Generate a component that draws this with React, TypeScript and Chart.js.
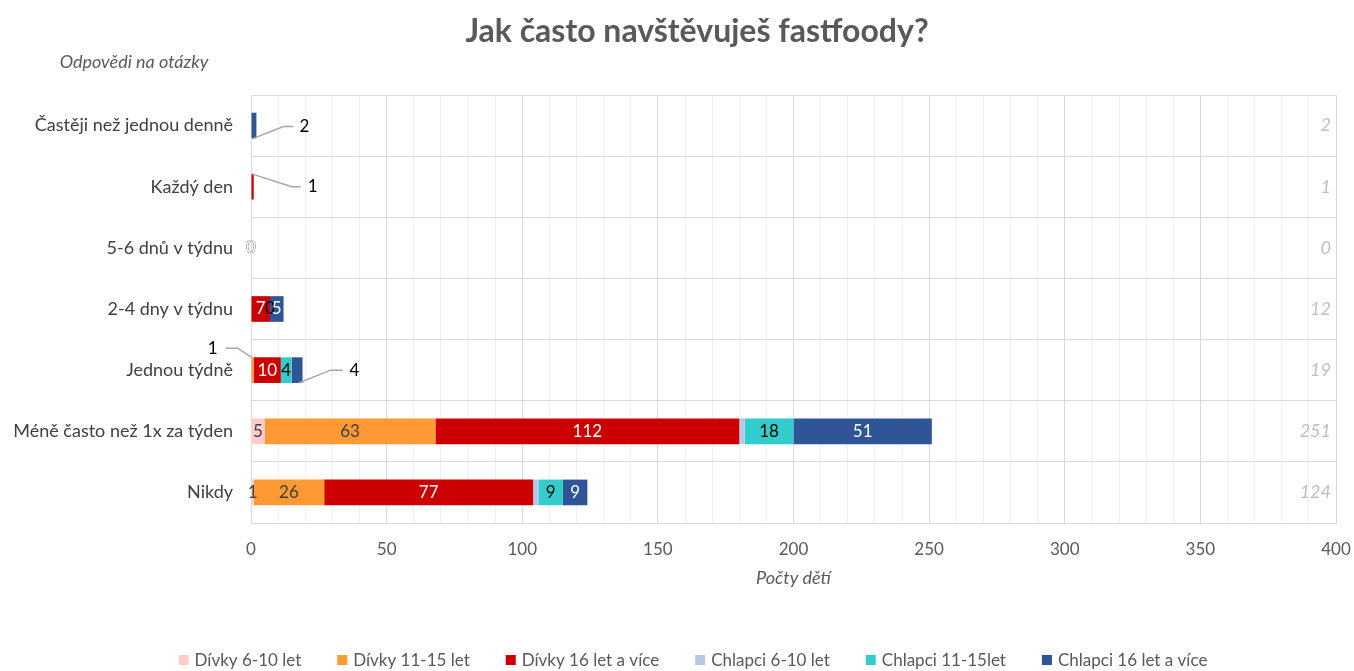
import React, { useEffect, useRef } from 'react';
import { Chart, registerables } from 'chart.js';

Chart.register(...registerables);

// ---------- data ----------
const categories = [
  'Častěji než jednou denně',
  'Každý den',
  '5-6 dnů v týdnu',
  '2-4 dny v týdnu',
  'Jednou týdně',
  'Méně často než 1x za týden',
  'Nikdy',
];
const seriesNames = [
  'Dívky 6-10 let',
  'Dívky 11-15 let',
  'Dívky 16 let a více',
  'Chlapci 6-10 let',
  'Chlapci 11-15let',
  'Chlapci 16 let a více',
];
const divky610 = [0, 0, 0, 0, 0, 5, 1];
const divky1115 = [0, 0, 0, 0, 1, 63, 26];
const divky16 = [0, 1, 0, 7, 10, 112, 77];
const chlapci610 = [0, 0, 0, 0, 0, 2, 2];
const chlapci1115 = [0, 0, 0, 0, 4, 18, 9];
const chlapci16 = [2, 0, 0, 5, 4, 51, 9];
const seriesValues = [divky610, divky1115, divky16, chlapci610, chlapci1115, chlapci16];
const totals = categories.map((_, i) => seriesValues.reduce((s, arr) => s + arr[i], 0));

const titleText = 'Jak často navštěvuješ fastfoody?';
const yTitleText = 'Odpovědi na otázky';
const xTitleText = 'Počty dětí';
const xMin = 0;
const xMax = 400;
const xMinorStep = 10;
const xMajorStep = 50;

// ---------- styles ----------
const FONT = 'Lato, "Open Sans", sans-serif';
const colors = ['#FFCCCC', '#FF9933', '#CC0000', '#B4C7E7', '#33CCCC', '#2F5597'];
const labelColors: (string | null)[] = ['#404040', '#404040', '#FFFFFF', null, '#000000', '#FFFFFF'];
const GRAY_TEXT = '#595959';
const LEADER = '#A6A6A6';

// callout geometry relative to segment end (xr), row centre (yc) and half bar height (h)
type Pt = (xr: number, yc: number, h: number) => [number, number];
type Callout = { start: Pt; elbow: Pt; end: Pt; align: CanvasTextAlign; textDx: number };
const callouts: Record<string, Callout> = {
  '5:0': { start: (xr, yc, h) => [xr - 3, yc + h], elbow: (xr, yc) => [xr + 27, yc + 1], end: (xr, yc) => [xr + 37, yc + 1], align: 'left', textDx: 6 },
  '2:1': { start: (xr, yc, h) => [xr - 2, yc - h], elbow: (xr, yc) => [xr + 38, yc], end: (xr, yc) => [xr + 47, yc], align: 'left', textDx: 7 },
  '1:4': { start: (xr, yc, h) => [xr - 2, yc - h], elbow: (xr, yc) => [xr - 16, yc - 22], end: (xr, yc) => [xr - 28, yc - 22], align: 'right', textDx: -8 },
  '5:4': { start: (xr, yc, h) => [xr - 4, yc + h], elbow: (xr, yc) => [xr + 28, yc], end: (xr, yc) => [xr + 40, yc], align: 'left', textDx: 7 },
};
// zero-value labels that remain visible in the reference
const shownZeros = new Set(['0:2', '1:2', '2:2', '4:2', '5:2', '4:3']);

const overlayPlugin = {
  id: 'overlay',
  afterDatasetsDraw(chart: any) {
    const ctx: CanvasRenderingContext2D = chart.ctx;
    ctx.save();
    ctx.font = `17px ${FONT}`;
    ctx.textBaseline = 'middle';
    seriesValues.forEach((vals, ds) => {
      const meta = chart.getDatasetMeta(ds);
      vals.forEach((v, idx) => {
        const col = labelColors[ds];
        if (!col) return;
        const key = `${ds}:${idx}`;
        if (v === 0 && !shownZeros.has(key)) return;
        const el = meta.data[idx];
        const p = el.getProps(['x', 'base', 'y', 'height'], true);
        const xr = Math.max(p.x, p.base);
        const xl = Math.min(p.x, p.base);
        const h = p.height / 2;
        const co = callouts[key];
        if (co) {
          const s = co.start(xr, p.y, h);
          const e1 = co.elbow(xr, p.y, h);
          const e2 = co.end(xr, p.y, h);
          ctx.strokeStyle = LEADER;
          ctx.lineWidth = 1.5;
          ctx.beginPath();
          ctx.moveTo(s[0], s[1]);
          ctx.lineTo(e1[0], e1[1]);
          ctx.lineTo(e2[0], e2[1]);
          ctx.stroke();
          ctx.fillStyle = '#000000';
          ctx.textAlign = co.align;
          ctx.fillText(String(v), e2[0] + co.textDx, e2[1]);
        } else {
          ctx.fillStyle = col;
          ctx.textAlign = 'center';
          ctx.fillText(String(v), (xl + xr) / 2, p.y);
        }
      });
    });
    // totals on the right
    ctx.font = `italic 18px ${FONT}`;
    ctx.fillStyle = '#BFBFBF';
    ctx.textAlign = 'right';
    const yScale = chart.scales.y;
    totals.forEach((t, i) => {
      ctx.fillText(String(t), chart.chartArea.right - 5, yScale.getPixelForValue(i));
    });
    ctx.restore();
  },
  afterDraw(chart: any) {
    const ctx: CanvasRenderingContext2D = chart.ctx;
    const area = chart.chartArea;
    ctx.save();
    ctx.textBaseline = 'middle';
    // title
    ctx.font = `bold 32px ${FONT}`;
    ctx.fillStyle = GRAY_TEXT;
    ctx.textAlign = 'center';
    ctx.fillText(titleText, 697, 32);
    // y title
    ctx.font = `italic 18px ${FONT}`;
    ctx.fillText(yTitleText, 134, 62);
    // x title
    ctx.fillText(xTitleText, (area.left + area.right) / 2, 578);
    // legend
    ctx.font = `17px ${FONT}`;
    const box = 10;
    const boxGap = 6;
    const itemGap = 36;
    const widths = seriesNames.map((n) => ctx.measureText(n).width);
    const total = widths.reduce((s, w) => s + box + boxGap + w, 0) + itemGap * (seriesNames.length - 1);
    let x = 693 - total / 2;
    const ly = 660;
    ctx.textAlign = 'left';
    seriesNames.forEach((n, i) => {
      ctx.fillStyle = colors[i];
      ctx.fillRect(x, ly - box / 2, box, box);
      x += box + boxGap;
      ctx.fillStyle = GRAY_TEXT;
      ctx.fillText(n, x, ly + 1);
      x += widths[i] + itemGap;
    });
    ctx.restore();
  },
};

export default function App() {
  const canvasRef = useRef<HTMLCanvasElement | null>(null);

  useEffect(() => {
    document.body.style.margin = '0';
    let chart: Chart | null = null;
    let cancelled = false;
    const build = () => {
      if (cancelled || !canvasRef.current) return;
      Chart.defaults.font.family = FONT;
      chart = new Chart(canvasRef.current, {
        type: 'bar',
        data: {
          labels: categories,
          datasets: seriesValues.map((vals, i) => ({
            label: seriesNames[i],
            data: vals,
            backgroundColor: colors[i],
            borderWidth: 0,
            barPercentage: 1,
            categoryPercentage: 0.42,
          })),
        },
        options: {
          indexAxis: 'y',
          animation: false,
          responsive: false,
          devicePixelRatio: 1,
          layout: { padding: { top: 95, right: 18, left: 0, bottom: 68 } },
          plugins: {
            legend: { display: false },
            title: { display: false },
            tooltip: { enabled: false },
          },
          scales: {
            x: {
              stacked: true,
              min: xMin,
              max: xMax,
              afterFit: (scale: any) => {
                scale.height = 80;
              },
              ticks: {
                stepSize: xMinorStep,
                autoSkip: false,
                maxRotation: 0,
                padding: 0,
                color: GRAY_TEXT,
                font: { size: 17, family: FONT },
                callback: (v: any) => (Number(v) % xMajorStep === 0 ? String(v) : ''),
              },
              grid: {
                drawTicks: true,
                tickLength: 16,
                tickColor: 'rgba(0,0,0,0)',
                color: (c: any) => (c.tick && c.tick.value % xMajorStep === 0 ? '#D9D9D9' : '#F0F0F0'),
              },
              border: { color: '#D9D9D9' },
            },
            y: {
              stacked: true,
              afterFit: (scale: any) => {
                scale.width = 251;
              },
              ticks: {
                padding: 18,
                color: '#404040',
                font: { size: 18, family: FONT },
              },
              grid: { drawTicks: false, color: '#D9D9D9', offset: true },
              border: { color: '#D9D9D9' },
            },
          },
        },
        plugins: [overlayPlugin],
      });
    };
    const fontsReady = (document as any).fonts
      ? Promise.all([
          (document as any).fonts.load(`16px Lato`),
          (document as any).fonts.load(`bold 32px Lato`),
          (document as any).fonts.load(`italic 18px Lato`),
        ]).catch(() => null)
      : Promise.resolve(null);
    fontsReady.then(build);
    return () => {
      cancelled = true;
      if (chart) chart.destroy();
    };
  }, []);

  return (
    <div style={{ position: 'fixed', left: 0, top: 0, width: 1354, height: 671, background: '#ffffff' }}>
      <canvas ref={canvasRef} width={1354} height={671} />
    </div>
  );
}
